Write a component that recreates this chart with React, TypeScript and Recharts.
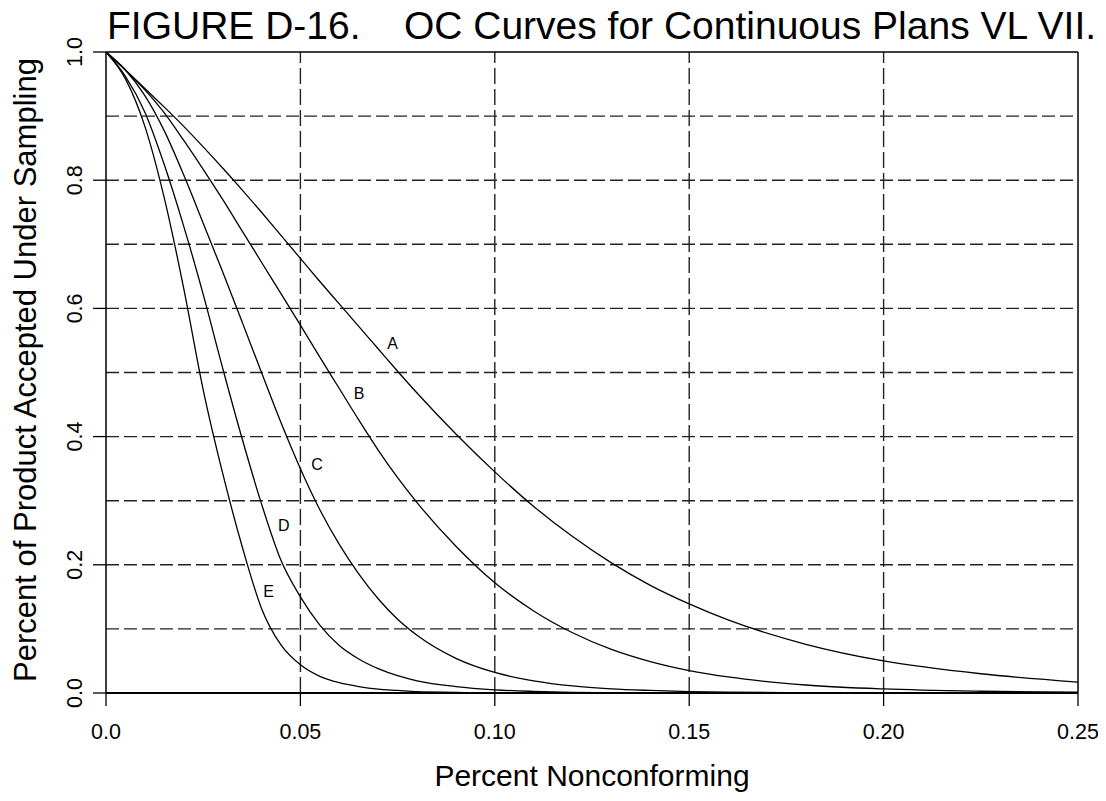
import React from 'react';
import { LineChart, Line, XAxis, YAxis, ReferenceLine, ReferenceDot } from 'recharts';

// fraction nonconforming at which each OC curve is sampled
const fraction = [
  0, 0.005, 0.01, 0.015, 0.02, 0.025, 0.03, 0.035, 0.04, 0.045, 0.05, 0.055, 0.06, 0.065, 0.07,
  0.075, 0.08, 0.09, 0.1, 0.11, 0.12, 0.13, 0.14, 0.15, 0.16, 0.18, 0.2, 0.225, 0.25,
];

// probability of acceptance for plans A..E
const planA = [
  1, 0.972, 0.943, 0.914, 0.884, 0.852, 0.819, 0.785, 0.75, 0.714, 0.678, 0.642, 0.607, 0.572, 0.537,
  0.502, 0.468, 0.404, 0.345, 0.291, 0.244, 0.203, 0.168, 0.139, 0.114, 0.076, 0.05, 0.03, 0.017,
];
const planB = [
  1, 0.972, 0.941, 0.905, 0.862, 0.817, 0.77, 0.721, 0.672, 0.623, 0.574, 0.524, 0.475, 0.426, 0.379,
  0.336, 0.297, 0.229, 0.172, 0.128, 0.094, 0.068, 0.049, 0.035, 0.025, 0.0125, 0.0063, 0.0027, 0.0012,
];
const planC = [
  1, 0.972, 0.932, 0.877, 0.808, 0.733, 0.657, 0.579, 0.5, 0.422, 0.35, 0.286, 0.232, 0.186, 0.147,
  0.115, 0.09, 0.054, 0.032, 0.019, 0.011, 0.0065, 0.004, 0.0022, 0.0012, 0.0004, 0, 0, 0,
];
const planD = [
  1, 0.962, 0.906, 0.824, 0.728, 0.622, 0.507, 0.397, 0.295, 0.207, 0.15, 0.106, 0.074, 0.053, 0.038,
  0.027, 0.019, 0.01, 0.005, 0.0025, 0.001, 0.0005, 0, 0, 0, 0, 0, 0, 0,
];
const planE = [
  1, 0.958, 0.884, 0.772, 0.631, 0.473, 0.343, 0.229, 0.132, 0.075, 0.044, 0.026, 0.016, 0.01, 0.006,
  0.004, 0.002, 0.001, 0, 0, 0, 0, 0, 0, 0, 0, 0, 0, 0,
];

const xTicks = [0, 0.05, 0.1, 0.15, 0.2, 0.25];
const xTickLabels = ['0.0', '0.05', '0.10', '0.15', '0.20', '0.25'];
const yTicks = [0, 0.2, 0.4, 0.6, 0.8, 1.0];
const yTickLabels = ['0.0', '0.2', '0.4', '0.6', '0.8', '1.0'];
const xGrid = [0.05, 0.1, 0.15, 0.2];
const yGrid = [0.1, 0.2, 0.3, 0.4, 0.5, 0.6, 0.7, 0.8, 0.9];

const planNames = ['A', 'B', 'C', 'D', 'E'];
const planLabelX = [0.0737, 0.0651, 0.0543, 0.0457, 0.0418];
const planLabelY = [0.545, 0.467, 0.356, 0.261, 0.159];

const chartData = fraction.map((p, i) => ({
  p,
  A: planA[i],
  B: planB[i],
  C: planC[i],
  D: planD[i],
  E: planE[i],
}));

const FONT = '"Liberation Sans", Arial, Helvetica, sans-serif';
const W = 1106;
const H = 801;

const XTick = (props: any) => {
  const idx = xTicks.indexOf(props.payload.value);
  return (
    <text x={props.x} y={732} textAnchor="middle" dominantBaseline="central" fontFamily={FONT} fontSize={21.5} fill="#000">
      {xTickLabels[idx]}
    </text>
  );
};

const YTick = (props: any) => {
  const idx = yTicks.indexOf(props.payload.value);
  const y = props.y;
  return (
    <text
      x={75}
      y={y}
      transform={`rotate(-90, 75, ${y})`}
      textAnchor="middle"
      dominantBaseline="central"
      fontFamily={FONT}
      fontSize={21.5}
      fill="#000"
    >
      {yTickLabels[idx]}
    </text>
  );
};

const PlanLabel = (name: string) => (props: any) => (
  <text x={props.cx} y={props.cy} textAnchor="middle" dominantBaseline="central" fontFamily={FONT} fontSize={16} fill="#000">
    {name}
  </text>
);

export default function App() {
  return (
    <div style={{ position: 'relative', width: W, height: H, margin: '-8px 0 0 -8px', background: '#fff' }}>
      <LineChart width={W} height={H} data={chartData} margin={{ top: 52, right: 28, bottom: 0, left: 0 }}>
        <XAxis
          type="number"
          dataKey="p"
          domain={[0, 0.25]}
          ticks={xTicks}
          height={108}
          tickSize={13}
          tick={<XTick />}
          axisLine={{ stroke: '#000', strokeWidth: 2.2 }}
          tickLine={{ stroke: '#000', strokeWidth: 1.3 }}
          allowDataOverflow
        />
        <YAxis
          type="number"
          domain={[0, 1]}
          ticks={yTicks}
          width={106}
          tickSize={13}
          tick={<YTick />}
          axisLine={{ stroke: '#000', strokeWidth: 1.5 }}
          tickLine={{ stroke: '#000', strokeWidth: 1.3 }}
          allowDataOverflow
        />
        {yGrid.map((v) => (
          <ReferenceLine key={`h${v}`} y={v} stroke="#222" strokeWidth={1.4} strokeDasharray="13 5" />
        ))}
        {xGrid.map((v) => (
          <ReferenceLine key={`v${v}`} x={v} stroke="#222" strokeWidth={1.4} strokeDasharray="16 5" />
        ))}
        <ReferenceLine y={1} stroke="#000" strokeWidth={1.5} />
        <ReferenceLine x={0.25} stroke="#000" strokeWidth={1.5} />
        {planNames.map((name) => (
          <Line
            key={name}
            type="monotone"
            dataKey={name}
            stroke="#000"
            strokeWidth={1.3}
            dot={false}
            isAnimationActive={false}
          />
        ))}
        {planNames.map((name, i) => (
          <ReferenceDot
            key={`lbl${name}`}
            x={planLabelX[i]}
            y={planLabelY[i]}
            r={1}
            shape={PlanLabel(name)}
          />
        ))}
      </LineChart>
      <svg width={W} height={H} style={{ position: 'absolute', left: 0, top: 0, pointerEvents: 'none' }}>
        <text x={107} y={38.5} fontFamily={FONT} fontSize={39} fill="#000" style={{ whiteSpace: 'pre' }}>
          {'FIGURE D-16.    OC Curves for Continuous Plans VL VII.'}
        </text>
        <text x={592} y={775} textAnchor="middle" dominantBaseline="central" fontFamily={FONT} fontSize={30} fill="#000">
          Percent Nonconforming
        </text>
        <text
          x={25}
          y={370}
          transform="rotate(-90, 25, 370)"
          textAnchor="middle"
          dominantBaseline="central"
          fontFamily={FONT}
          fontSize={31}
          fill="#000"
        >
          Percent of Product Accepted Under Sampling
        </text>
      </svg>
    </div>
  );
}
